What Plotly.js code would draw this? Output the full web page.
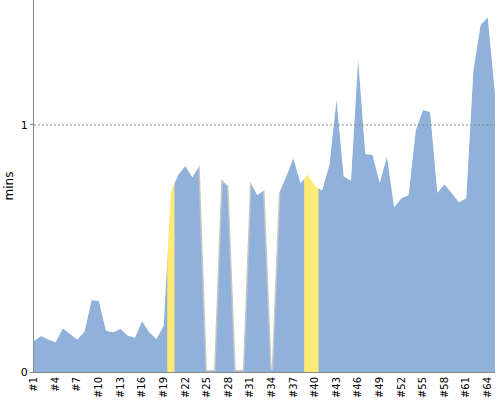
<!DOCTYPE html>
<html>
<head>
<meta charset="utf-8">
<script src="https://cdn.plot.ly/plotly-3.0.1.min.js"></script>
<style>html,body{margin:0;padding:0;background:#fff;}#chart{width:500px;height:400px;}</style>
</head>
<body>
<div id="chart"></div>
<script>
const runs = ['#1','#2','#3','#4','#5','#6','#7','#8','#9','#10','#11','#12','#13','#14','#15','#16','#17','#18','#19','#20',
  '#21','#22','#23','#24','#25','#26','#27','#28','#29','#30','#31','#32','#33','#34','#35','#36','#37','#38','#39','#40',
  '#41','#42','#43','#44','#45','#46','#47','#48','#49','#50','#51','#52','#53','#54','#55','#56','#57','#58','#59','#60',
  '#61','#62','#63','#64','#65'];
const mins = [0.127,0.146,0.132,0.120,0.177,0.153,0.132,0.163,0.291,0.287,
  0.167,0.161,0.175,0.148,0.139,0.206,0.161,0.134,0.187,0.730,
  0.798,0.834,0.788,0.838,0.008,0.008,0.780,0.753,0.008,0.008,
  0.770,0.717,0.737,0.008,0.723,0.790,0.865,0.764,0.800,0.753,
  0.735,0.838,1.104,0.791,0.775,1.270,0.883,0.879,0.766,0.872,
  0.667,0.703,0.717,0.980,1.061,1.053,0.726,0.760,0.721,0.687,
  0.703,1.223,1.405,1.436,1.128];
const highlighted = ['#20','#39','#40'];
const idle = ['#25','#26','#29','#30','#34'];
const yTicks = [0, 1];
const yRange = [0, 1.506];

const n = runs.length;
const hiY = runs.map((r, i) => highlighted.includes(r)
  ? Math.max(mins[i], mins[Math.max(0, i - 1)], mins[Math.min(n - 1, i + 1)]) : 0);
const nearIdle = (i) => [i - 1, i, i + 1].some(j => j >= 0 && j < n && idle.includes(runs[j]));
const grayY = runs.map((r, i) => nearIdle(i) ? mins[i] : null);

const traces = [
  {x: runs, y: mins, type: 'scatter', mode: 'lines', fill: 'tozeroy',
   fillcolor: '#8fb1da', line: {color: '#8fb1da', width: 0.5}, hoverinfo: 'skip'},
  {x: runs, y: hiY, type: 'scatter', mode: 'lines', fill: 'tozeroy', line: {shape: 'hvh', width: 0, color: '#ffea75'},
   fillcolor: '#ffea75', hoverinfo: 'skip'},
  {x: runs, y: grayY, type: 'scatter', mode: 'lines', connectgaps: false,
   line: {color: '#c6c6c6', width: 3}, hoverinfo: 'skip'},
  {x: runs, y: mins, type: 'scatter', mode: 'lines', line: {width: 0, color: 'rgba(0,0,0,0)'}, hoverinfo: 'skip'},
  {x: runs, y: runs.map(() => yRange[1]), type: 'scatter', mode: 'lines', fill: 'tonexty',
   fillcolor: '#ffffff', line: {width: 0, color: 'rgba(0,0,0,0)'}, hoverinfo: 'skip'}
];

const layout = {
  width: 500, height: 400,
  margin: {l: 34, r: 5, t: 0, b: 28},
  paper_bgcolor: '#fff', plot_bgcolor: '#fff',
  showlegend: false,
  font: {family: 'DejaVu Sans, sans-serif', color: '#000'},
  xaxis: {
    type: 'category', categoryorder: 'array', categoryarray: runs,
    range: [0, n - 1], tickmode: 'array', tickvals: runs.filter((_, i) => i % 3 === 0),
    tickangle: -90, tickfont: {size: 10, color: '#000'},
    showline: true, linecolor: '#888', linewidth: 1, ticks: '',
    showgrid: false, zeroline: false, automargin: false, fixedrange: true
  },
  yaxis: {
    range: yRange, tickmode: 'array', tickvals: yTicks,
    tickfont: {size: 11, color: '#000'},
    showline: true, linecolor: '#888', linewidth: 1,
    ticks: 'outside', ticklen: 3, tickcolor: '#888',
    showgrid: false, zeroline: false, automargin: false, fixedrange: true,
    title: {text: 'mins', font: {size: 12, color: '#000'}, standoff: 4}
  },
  shapes: yTicks.filter(v => v > 0).map(v => ({
    type: 'line', xref: 'paper', x0: 0, x1: 1, yref: 'y', y0: v, y1: v,
    line: {color: '#888', width: 1, dash: '2px,2px'}, layer: 'above'
  }))
};

Plotly.newPlot('chart', traces, layout, {displayModeBar: false, staticPlot: true});
</script>
</body>
</html>
